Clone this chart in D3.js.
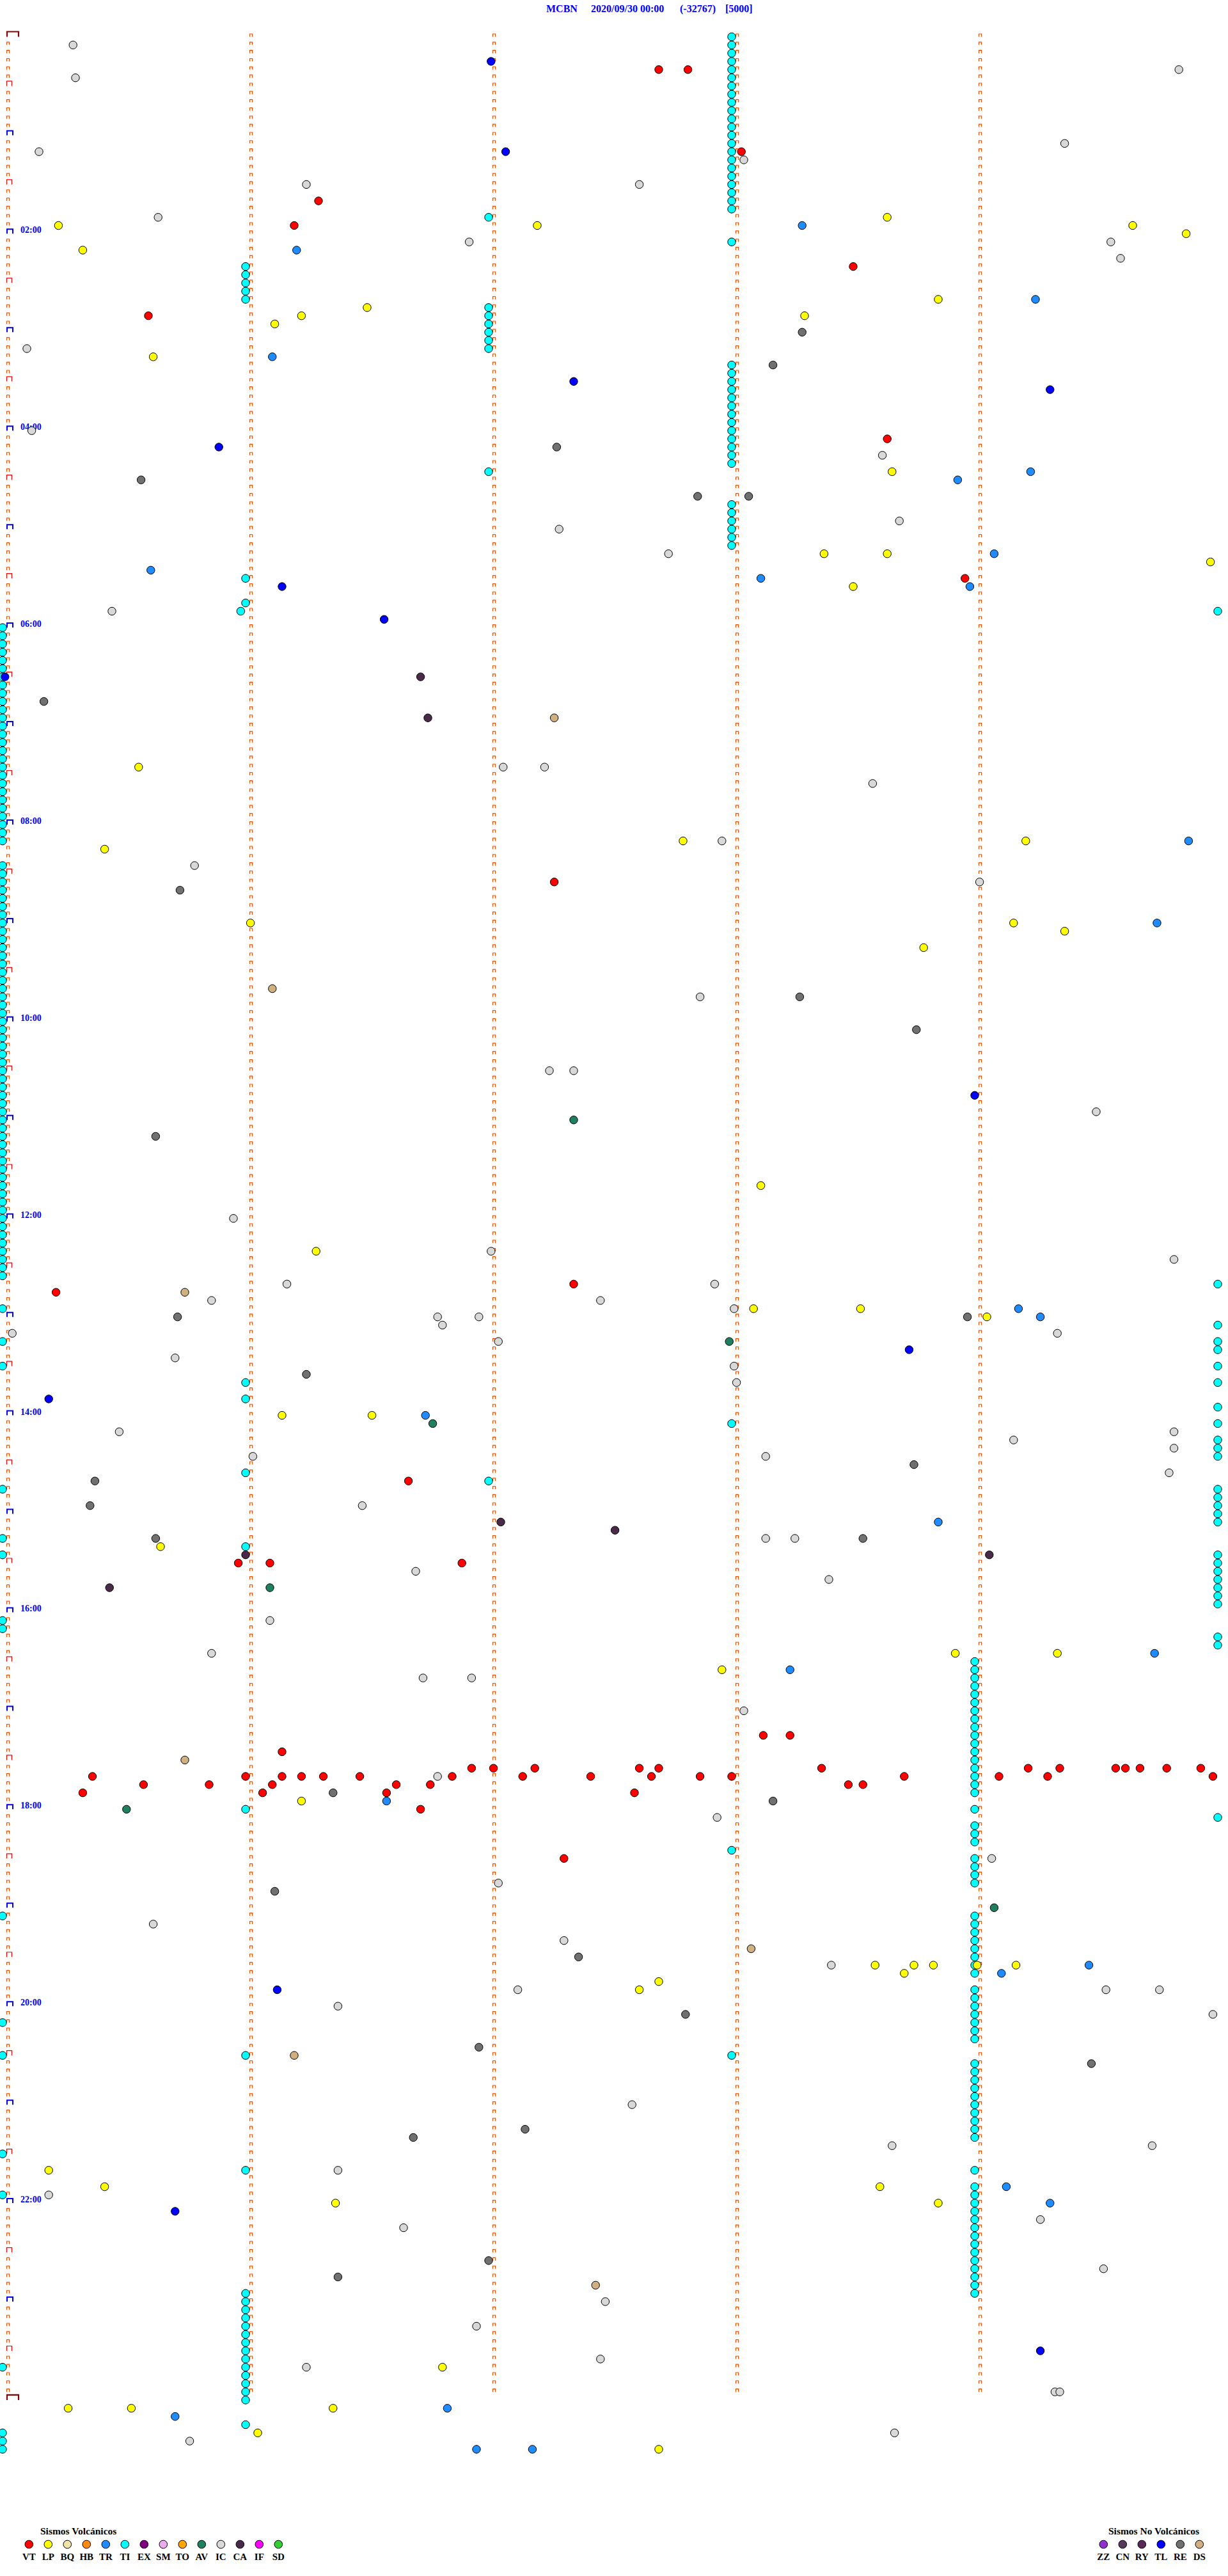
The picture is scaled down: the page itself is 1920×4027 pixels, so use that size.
<!DOCTYPE html>
<html><head><meta charset="utf-8">
<script src="https://cdn.jsdelivr.net/npm/d3@7"></script>
<style>html,body{margin:0;padding:0;background:#fff}svg{display:block}</style>
</head><body>
<svg id="chart" width="1920" height="4027"></svg>
<script>
// ---------- header ----------
const titleParts = ["MCBN", "2020/09/30 00:00", "(-32767)", "[5000]"];
const titleX = [854, 924, 1063, 1134];

// ---------- helicorder layout data ----------
const minutesPerLine = 5;
const markerLines = 288;          // 00:00 ... 24:00
const hourLabels = ["02:00","04:00","06:00","08:00","10:00","12:00","14:00","16:00","18:00","20:00","22:00"];

// ---------- legend ----------
const volcTypes  = ["VT","LP","BQ","HB","TR","TI","EX","SM","TO","AV","IC","CA","IF","SD"];
const volcColors = ["#ff0000","#ffff00","#efe3a8","#ff8a10","#1e8cff","#00ffff","#800080","#eeaaee","#ffa500","#1f8060","#d8d8d8","#4a2a48","#ff00ff","#33cc33"];
const noVolcTypes  = ["ZZ","CN","RY","TL","RE","DS"];
const noVolcColors = ["#9030d0","#553a5a","#5a2a58","#0000ff","#707070","#d0b080"];

// ---------- events: [line index (5-min line), minute position along the line] ----------
const VT = [[4,2.70],[4,2.82],[14,3.04],[20,1.30],[23,1.20],[28,3.50],[34,0.60],[49,3.64],[66,3.96],[103,2.27],[152,2.35],[153,0.22],[176,1.67],[186,0.97],[186,1.10],[186,1.89],[207,3.13],[207,3.24],[209,1.15],
 [211,1.93],[211,2.02],[211,2.19],[211,2.62],[211,2.70],[211,3.37],[211,4.22],[211,4.35],[211,4.58],[211,4.62],[211,4.68],[211,4.79],[211,4.93],
 [212,0.37],[212,1.00],[212,1.15],[212,1.23],[212,1.32],[212,1.47],[212,1.85],[212,2.14],[212,2.42],[212,2.67],[212,2.87],[212,3.00],[212,3.71],[212,4.10],[212,4.30],[212,4.98],
 [213,0.58],[213,0.85],[213,1.11],[213,1.62],[213,1.76],[213,3.48],[213,3.54],
 [214,0.33],[214,1.07],[214,1.58],[214,2.60],[216,1.72],[222,2.31]];
const LP = [[22,3.64],[23,0.23],[23,2.20],[23,4.65],[24,4.87],[26,0.33],[32,3.85],[33,1.50],[34,1.23],[34,3.30],[35,1.12],[39,0.62],[53,3.66],[63,3.38],[63,3.64],[64,4.97],[67,3.50],[89,0.56],[98,2.80],[98,4.21],[99,0.42],[108,1.02],[108,4.16],[109,4.37],[111,3.79],[140,3.12],[148,1.29],[155,3.09],[155,3.53],[156,4.05],[168,1.15],[168,1.52],[184,0.65],[197,3.92],[197,4.34],[199,2.96],[215,1.23],[235,3.59],[235,3.75],[235,3.83],[235,4.01],[235,4.17],[236,3.71],[237,2.70],[238,2.62],[260,0.19],[262,0.42],[262,3.61],[264,1.37],[264,3.85],[284,1.81],[289,0.27],[289,0.53],[289,1.36],[292,1.05],[294,2.70]];
const TR = [[23,3.29],[26,1.21],[32,4.25],[39,1.11],[53,4.23],[54,3.93],[63,4.08],[65,0.61],[66,3.12],[67,3.98],[98,4.88],[108,4.75],[155,4.18],[156,4.27],[168,1.74],[181,3.85],[197,4.74],[199,3.24],[215,1.58],[235,4.47],[236,4.11],[262,4.13],[264,4.31],[289,1.83],[290,0.71],[294,1.95],[294,2.18]];
const TI = [
 [0,3],[1,3],[2,3],[3,3],[4,3],[5,3],[6,3],[7,3],[8,3],[9,3],[10,3],[11,3],[12,3],[13,3],[14,3],[15,3],[16,3],[17,3],[18,3],[19,3],[20,3],[21,3],[25,3],
 [40,3],[41,3],[42,3],[43,3],[44,3],[45,3],[46,3],[47,3],[48,3],[49,3],[50,3],[51,3],[52,3],[57,3],[58,3],[59,3],[60,3],[61,3],[62,3],[169,3],[221,3],[246,3],
 [28,1],[29,1],[30,1],[31,1],[32,1],[66,1],[69,1],[70,0.98],[164,1],[166,1],[175,1],[184,1],[216,1],[246,1],[260,1],
 [275,1],[276,1],[277,1],[278,1],[279,1],[280,1],[281,1],[282,1],[283,1],[284,1],[285,1],[286,1],[287,1],[288,1],[291,1],
 [22,2],[33,2],[34,2],[35,2],[36,2],[37,2],[38,2],[53,2],[176,2],
 [198,4],[199,4],[200,4],[201,4],[202,4],[203,4],[204,4],[205,4],[206,4],[207,4],[208,4],[209,4],[210,4],[211,4],[212,4],[213,4],[214,4],[216,4],[218,4],[219,4],[220,4],[222,4],[223,4],[224,4],[225,4],
 [229,4],[230,4],[231,4],[232,4],[233,4],[234,4],[235,4],[236,4],[238,4],[239,4],[240,4],[241,4],[242,4],[243,4],[244,4],
 [247,4],[248,4],[249,4],[250,4],[251,4],[252,4],[253,4],[254,4],[255,4],[256,4],[260,4],
 [262,4],[263,4],[264,4],[265,4],[266,4],[267,4],[268,4],[269,4],[270,4],[271,4],[272,4],[273,4],[274,4],[275,4],
 [72,0],[73,0],[74,0],[75,0],[76,0],[77,0],[78,0],[79,0],[80,0],[81,0],[82,0],[83,0],[84,0],[85,0],[86,0],[87,0],[88,0],[89,0],[90,0],[91,0],[92,0],[93,0],[94,0],[95,0],[96,0],[97,0],[98,0],
 [101,0],[102,0],[103,0],[104,0],[105,0],[106,0],[107,0],[108,0],[109,0],[110,0],[111,0],[112,0],[113,0],[114,0],[115,0],[116,0],[117,0],[118,0],[119,0],[120,0],[121,0],[122,0],[123,0],[124,0],[125,0],
 [126,0],[127,0],[128,0],[129,0],[130,0],[131,0],[132,0],[133,0],[134,0],[135,0],[136,0],[137,0],[138,0],[139,0],[140,0],[141,0],[142,0],[143,0],[144,0],[145,0],[146,0],[147,0],[148,0],[149,0],[150,0],[151,0],
 [155,0],[159,0],[162,0],[177,0],[183,0],[185,0],[193,0],[194,0],[229,0],[242,0],[246,0],[258,0],[263,0],[284,0],[292,0],[293,0],[294,0],
 [70,5],[152,5],[157,5],[159,5],[160,5],[162,5],[164,5],[167,5],[169,5],[171,5],[172,5],[173,5],[177,5],[178,5],[179,5],[180,5],[181,5],
 [185,5],[186,5],[187,5],[188,5],[189,5],[190,5],[191,5],[195,5],[196,5],[217,5]];
const AV = [[132,2.35],[159,2.99],[169,1.77],[189,1.10],[216,0.51],[228,4.08]];
const IC = [[1,0.29],[4,4.84],[5,0.30],[13,4.37],[14,0.15],[15,3.05],[18,1.25],[18,2.62],[22,0.64],[25,1.92],[25,4.56],[27,4.60],[38,0.10],[48,0.12],[51,3.62],[59,3.69],[60,2.29],[63,2.74],[70,0.45],[89,2.06],[89,2.23],[91,3.58],[98,2.96],[101,0.79],[103,4.02],[117,2.87],[126,2.25],[126,2.35],[131,4.50],[144,0.95],[148,2.01],[149,4.82],[152,1.17],[152,2.93],[154,0.86],[154,2.46],[155,3.01],[156,1.79],[156,1.96],[157,1.81],[158,0.04],[158,4.34],[159,2.04],[161,0.71],[162,3.01],[164,3.02],[170,0.48],[170,4.82],[171,4.16],[172,4.82],[173,1.03],[173,3.14],[175,4.80],[179,1.48],[183,3.14],[183,3.26],[187,1.70],[188,3.40],[193,1.10],[197,0.86],[200,1.73],[200,1.93],[204,3.05],[212,1.79],[217,2.94],[222,4.07],[225,2.04],[230,0.62],[232,2.31],[235,3.41],[238,2.12],[238,4.54],[238,4.76],[240,1.38],[241,4.98],[252,2.59],[257,3.66],[257,4.73],[260,1.38],[263,0.19],[266,4.27],[267,1.65],[272,4.53],[276,2.48],[279,1.95],[283,2.46],[284,1.25],[287,4.33],[287,4.35],[292,3.67],[293,0.77]];
const CA = [[78,1.72],[83,1.75],[181,2.05],[182,2.52],[185,1.00],[185,4.06],[189,0.44]];
const TL = [[3,2.01],[14,2.07],[42,2.35],[43,4.31],[50,0.89],[67,1.15],[71,1.57],[78,0.01],[129,4.00],[160,3.73],[166,0.19],[238,1.13],[265,0.71],[282,4.27]];
const RE = [[36,3.29],[40,3.17],[50,2.28],[54,0.57],[56,2.86],[56,3.07],[81,0.17],[104,0.73],[117,3.28],[121,3.76],[134,0.63],[156,0.72],[156,3.97],[163,1.25],[174,3.75],[176,0.38],[179,0.36],[183,0.63],[183,3.54],[214,1.36],[215,3.17],[226,1.12],[234,2.37],[241,2.81],[245,1.96],[247,4.48],[255,2.15],[256,1.69],[271,2.00],[273,1.38]];
const DS = [[83,2.27],[116,1.11],[153,0.75],[210,0.75],[233,3.08],[246,1.20],[274,2.44]];

const eventSets = [["TI",TI],["IC",IC],["RE",RE],["CA",CA],["DS",DS],["AV",AV],["TR",TR],["LP",LP],["TL",TL],["VT",VT]];

// ---------- drawing ----------
const svg = d3.select("#chart");
const colorOf = d3.scaleOrdinal().domain(volcTypes.concat(noVolcTypes)).range(volcColors.concat(noVolcColors));
const x = d3.scaleLinear().domain([0, minutesPerLine]).range([10, 1910]);
const y = d3.scaleLinear().domain([0, markerLines]).range([57.5, 57.5 + markerLines * 12.828]);

// title
svg.append("g").selectAll("text").data(titleParts).join("text")
  .attr("x", (d,i) => titleX[i]).attr("y", 19)
  .attr("font-family", "'Liberation Serif','Times New Roman',serif")
  .attr("font-weight", "bold").attr("font-size", 16).attr("fill", "#0000ff")
  .text(d => d);

// minute marks
const marks = [];
for (let r = 0; r <= markerLines; r++) {
  for (let m = 0; m < minutesPerLine; m++) {
    if (r === markerLines && m > 0) continue;
    let kind = "min";
    if (m === 0) {
      if (r % 288 === 0) kind = "day";
      else if (r % 12 === 0) kind = "hour";
      else if (r % 6 === 0) kind = "half";
    }
    marks.push({r, m, kind});
  }
}
const markStyle = {
  min:  {w:4, h:4.5, c:"#ff4a00", sw:1.1, off:0.5},
  half: {w:8, h:7.5, c:"#ff0000", sw:1.2, off:0.5},
  hour: {w:9, h:7,   c:"#0000ff", sw:2,   off:1},
  day:  {w:18,h:8,   c:"#8b0000", sw:2.2, off:1}
};
svg.append("g").selectAll("path").data(marks).join("path")
  .attr("d", d => {
    const s = markStyle[d.kind];
    const x0 = x(d.m) + s.off, yb = y(d.r);
    return `M${x0},${yb} V${yb - s.h} H${x0 + s.w} V${yb}`;
  })
  .attr("fill", "none")
  .attr("stroke", d => markStyle[d.kind].c)
  .attr("stroke-width", d => markStyle[d.kind].sw);

// hour labels
svg.append("g").selectAll("text").data(hourLabels).join("text")
  .attr("x", 32).attr("y", d => y(+d.slice(0,2) * 60 / minutesPerLine) - 1)
  .attr("font-family", "'Liberation Serif','Times New Roman',serif")
  .attr("font-weight", "bold").attr("font-size", 14).attr("fill", "#0000ff")
  .text(d => d);

// events
const dots = [];
eventSets.forEach(([t, arr]) => arr.forEach(([r, m]) => dots.push({t, r, m})));
svg.append("g").selectAll("circle").data(dots).join("circle")
  .attr("cx", d => x(d.m) - 6).attr("cy", d => y(d.r)).attr("r", 6.2)
  .attr("fill", d => colorOf(d.t)).attr("stroke", "#000").attr("stroke-width", 1);

// legends
function legend(types, x0, titleText, titleXPos) {
  const g = svg.append("g");
  g.append("text").attr("x", titleXPos).attr("y", 3962)
    .attr("font-family", "'Liberation Serif','Times New Roman',serif")
    .attr("font-weight", "bold").attr("font-size", 15.5).attr("fill", "#000").text(titleText);
  const lx = d3.scalePoint().domain(types).range([x0, x0 + 30 * (types.length - 1)]);
  g.selectAll("circle").data(types).join("circle")
    .attr("cx", d => lx(d)).attr("cy", 3977.5).attr("r", 6.3)
    .attr("fill", d => colorOf(d)).attr("stroke", "#000").attr("stroke-width", 1);
  g.selectAll("text.lab").data(types).join("text").attr("class", "lab")
    .attr("x", d => lx(d)).attr("y", 4001.5).attr("text-anchor", "middle")
    .attr("font-family", "'Liberation Serif','Times New Roman',serif")
    .attr("font-weight", "bold").attr("font-size", 15).attr("fill", "#000").text(d => d);
}
legend(volcTypes, 45.3, "Sismos Volcánicos", 63);
legend(noVolcTypes, 1725.3, "Sismos No Volcánicos", 1733);
</script>
</body></html>
